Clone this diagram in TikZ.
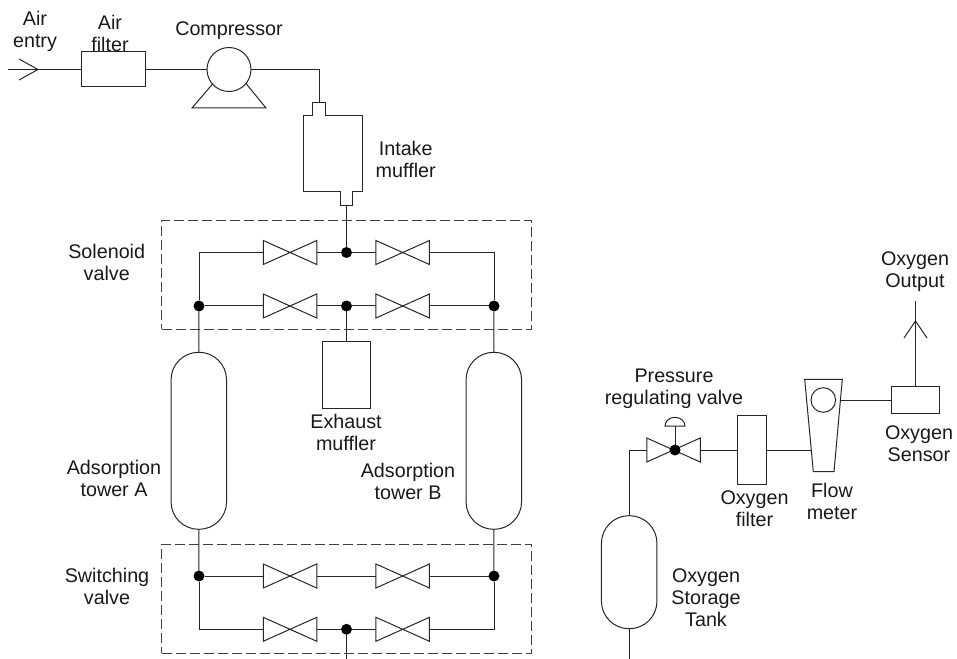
\documentclass[tikz,border=0pt]{standalone}
\usepackage{fontspec}
\setmainfont{Liberation Sans}
\tikzset{
  pipe/.style={line width=0.75pt,black!85},
  part/.style 2 args={draw,pipe,rectangle,inner sep=0pt,outer sep=0pt,minimum width=#1*0.75pt,minimum height=#2*0.75pt},
  valvebody/.style={rectangle,inner sep=0pt,outer sep=0pt,minimum width=53.5*0.75pt,minimum height=24*0.75pt,
    append after command={\pgfextra{\draw[pipe,line join=miter] (\tikzlastnode.north west)--(\tikzlastnode.south east)--(\tikzlastnode.north east)--(\tikzlastnode.south west)--cycle;}}},
  junction/.style={circle,fill=black,inner sep=0pt,outer sep=0pt,minimum size=11*0.75pt},
  tank/.style={draw,pipe,rectangle,rounded corners=20.6pt,inner sep=0pt,outer sep=0pt,minimum width=55.5*0.75pt,minimum height=#1*0.75pt},
  groupbox/.style={draw=black!75,line width=0.75pt,dash pattern=on 7.5pt off 3pt,rectangle,inner sep=0pt,minimum width=370*0.75pt,minimum height=#1*0.75pt},
  lbl/.style={align=center,inner sep=0pt,font=\fontsize{14.8}{16.5}\selectfont,text=black!90},
}
\begin{document}
\begin{tikzpicture}[x=0.75pt,y=-0.75pt]
\useasboundingbox (0,0) rectangle (957,659);
% group boxes
\node[groupbox=108.5] (solbox) at (346.5,275.2) {};
\node[groupbox=109] (swbox) at (346.5,598.8) {};
% air line
\coordinate (airin) at (8,69.5);
\coordinate (airtip) at (38,69.5);
\coordinate (airup) at (19,59);
\coordinate (airdn) at (19,80);
\node[part={64.5}{35}] (filter) at (113.7,69.5) {};
\node[draw,pipe,circle,inner sep=0pt,outer sep=0pt,minimum size=44*0.75pt] (comp) at (229,69.5) {};
\draw[pipe] (airin) -- (filter.west);
\draw[pipe] (airup) -- (airtip) -- (airdn);
\draw[pipe] (filter.east) -- (comp.west);
\draw[pipe,line join=miter] (213,83.5) -- (192,108) -- (266,108) -- (246,83.5);
% intake muffler
\coordinate (mufin) at (319,103);
\coordinate (mufout) at (346.5,205.3);
\draw[pipe,line join=miter] (312.7,103) -- (312.7,116) -- (303.7,116) -- (303.7,191.7) -- (340,191.7) -- (340,205.3) -- (352.7,205.3) -- (352.7,191.7) -- (362,191.7) -- (362,116) -- (325.3,116) -- (325.3,103) -- cycle;
\draw[pipe] (comp.east) -| (mufin);
% solenoid valves
\node[valvebody] (s1) at (290,252.5) {};
\node[valvebody] (s2) at (402.7,252.5) {};
\node[valvebody] (s3) at (290,306) {};
\node[valvebody] (s4) at (402.7,306) {};
\node[junction] (jtop) at (346.5,252.5) {};
\node[junction] (jmid) at (346.5,306) {};
\node[junction] (jl) at (199,306) {};
\node[junction] (jr) at (494,306) {};
\draw[pipe] (mufout) -- (jtop);
\draw[pipe] (s1.east) -- (jtop) -- (s2.west);
\draw[pipe] (s3.east) -- (jmid) -- (s4.west);
\draw[pipe] (s1.west) -| (jl);
\draw[pipe] (s2.east) -| (jr);
\draw[pipe] (jl) -- (s3.west);
\draw[pipe] (s4.east) -- (jr);
% exhaust muffler
\node[part={47.5}{67}] (exh) at (346.5,374.8) {};
\draw[pipe] (jmid) -- (exh.north);
% towers
\node[tank=177] (ta) at (198.8,440.8) {};
\node[tank=177] (tb) at (493.8,440.8) {};
\draw[pipe] (jl) -- (ta.north);
\draw[pipe] (jr) -- (tb.north);
% switching valves
\node[valvebody] (w1) at (290,576) {};
\node[valvebody] (w2) at (402.7,576) {};
\node[valvebody] (w3) at (290,629.3) {};
\node[valvebody] (w4) at (402.7,629.3) {};
\node[junction] (kl) at (199,576) {};
\node[junction] (kr) at (494,576) {};
\node[junction] (kb) at (346.5,629.3) {};
\coordinate (kout) at (346.5,659);
\draw[pipe] (ta.south) -- (kl);
\draw[pipe] (tb.south) -- (kr);
\draw[pipe] (kl) -- (w1.west);
\draw[pipe] (w1.east) -- (w2.west);
\draw[pipe] (w2.east) -- (kr);
\draw[pipe] (kl) |- (w3.west);
\draw[pipe] (kr) |- (w4.east);
\draw[pipe] (w3.east) -- (kb) -- (w4.west);
\draw[pipe] (kb) -- (kout);
% oxygen side
\node[tank=113] (ot) at (629.2,572.2) {};
\coordinate (otout) at (629.2,659);
\draw[pipe] (ot.south) -- (otout);
\node[valvebody] (pv) at (673.5,450) {};
\node[junction] (pj) at (675,450) {};
\coordinate (stem) at (675,426);
\draw[pipe] (pv.west) -| (ot.north);
\draw[pipe] (pj) -- (stem);
\draw[pipe] (665,426) arc[start angle=180,end angle=360,x radius=10,y radius=8.7] -- cycle;
\node[part={28.6}{68.3}] (ofil) at (752,450) {};
\draw[pipe] (pv.east) -- (ofil.west);
\draw[pipe,line join=miter] (804.7,379.3) -- (842.3,379.3) -- (834,471.7) -- (813.3,471.7) -- cycle;
\node[draw,pipe,circle,inner sep=0pt,outer sep=0pt,minimum size=24.6*0.75pt] (fball) at (823.3,400) {};
\coordinate (flowin) at (811,450);
\coordinate (flowout) at (840.7,400);
\draw[pipe] (ofil.east) -- (flowin);
\node[part={48.4}{26.6}] (sensor) at (915.5,400) {};
\draw[pipe] (flowout) -- (sensor.west);
\coordinate (o2end) at (915.5,301);
\coordinate (o2tip) at (915.5,321);
\coordinate (o2l) at (904,338);
\coordinate (o2r) at (927,338);
\draw[pipe] (sensor.north) -- (o2end);
\draw[pipe] (o2l) -- (o2tip) -- (o2r);
% labels
\node[lbl] (t1) at (35,31.5) {Air\\entry};
\node[lbl] (t2) at (110,33) {Air\\filter};
\node[lbl] (t3) at (229,31) {Compressor};
\node[lbl] (t4) at (405.7,159) {Intake\\muffler};
\node[lbl] (t5) at (106.7,262) {Solenoid\\valve};
\node[lbl] (t6) at (346,432) {Exhaust\\muffler};
\node[lbl] (t7) at (114,478.5) {Adsorption\\tower A};
\node[lbl] (t8) at (408,481.5) {Adsorption\\tower B};
\node[lbl] (t9) at (107,586) {Switching\\valve};
\node[lbl] (t10) at (915,272) {Oxygen\\Output};
\node[lbl] (t11) at (674,389) {Pressure\\regulating valve};
\node[lbl] (t12) at (919,444) {Oxygen\\Sensor};
\node[lbl] (t13) at (754.5,508.5) {Oxygen\\filter};
\node[lbl] (t14) at (832,501.5) {Flow\\meter};
\node[lbl] (t15) at (706,598) {Oxygen\\Storage\\Tank};
\end{tikzpicture}
\end{document}
